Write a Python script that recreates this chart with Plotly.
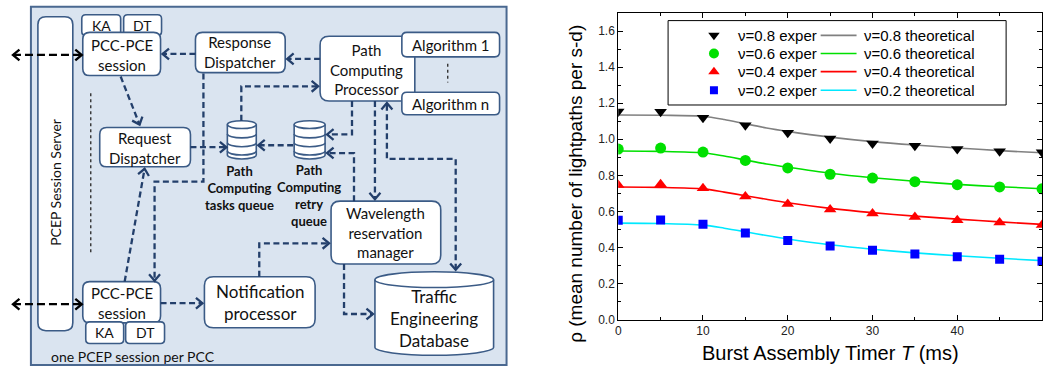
import plotly.graph_objects as go

# ---------------- data (right chart) ----------------
T_ms = [0, 5, 10, 15, 20, 25, 30, 35, 40, 45, 50]
exp_08 = [1.154, 1.152, 1.120, 1.078, 1.036, 1.005, 0.977, 0.964, 0.946, 0.933, 0.928]
exp_06 = [0.946, 0.951, 0.929, 0.883, 0.841, 0.806, 0.785, 0.765, 0.748, 0.736, 0.725]
exp_04 = [0.747, 0.750, 0.728, 0.683, 0.641, 0.611, 0.589, 0.569, 0.551, 0.538, 0.525]
exp_02 = [0.551, 0.553, 0.529, 0.480, 0.439, 0.408, 0.384, 0.364, 0.348, 0.335, 0.324]

T_theory = [0, 5, 10, 12.5, 15, 17.5, 20, 25, 30, 35, 40, 45, 50]
th_08 = [1.135, 1.133, 1.128, 1.110, 1.086, 1.063, 1.044, 1.012, 0.987, 0.968, 0.952, 0.937, 0.925]
th_06 = [0.935, 0.933, 0.925, 0.907, 0.885, 0.863, 0.845, 0.812, 0.787, 0.767, 0.750, 0.737, 0.726]
th_04 = [0.735, 0.733, 0.725, 0.707, 0.687, 0.667, 0.648, 0.617, 0.593, 0.574, 0.557, 0.542, 0.528]
th_02 = [0.535, 0.533, 0.524, 0.507, 0.487, 0.466, 0.447, 0.415, 0.390, 0.370, 0.354, 0.340, 0.327]

exper_names = ["ν=0.8 exper", "ν=0.6 exper", "ν=0.4 exper", "ν=0.2 exper"]
theory_names = ["ν=0.8 theoretical", "ν=0.6 theoretical", "ν=0.4 theoretical", "ν=0.2 theoretical"]
y_ticks = [0.0, 0.2, 0.4, 0.6, 0.8, 1.0, 1.2, 1.4, 1.6]
x_ticks = [0, 10, 20, 30, 40, 50]
x_range = [0, 50]
y_range = [0, 1.7]

exper_series = [exp_08, exp_06, exp_04, exp_02]
theory_series = [th_08, th_06, th_04, th_02]
marker_colors = ["black", "#00e000", "#ff0000", "#0000ff"]
marker_symbols = ["triangle-down", "circle", "triangle-up", "square"]
marker_sizes = [11, 11, 11, 9]
line_colors = ["#808080", "#00e000", "#ff0000", "#00e8ff"]

W, H = 1047, 374
PLOT_L, PLOT_R, PLOT_T, PLOT_B = 617, 1042, 13.3, 325.7   # chart plot area in page pixels
CHART_FONT = "Liberation Sans, Arial, sans-serif"
DIAG_FONT = "Lato, Open Sans, sans-serif"
BOX = "#3b5b86"
ARR = "#233f6b"


def px(x):
    return x / W


def py(y):
    return 1 - y / H


def P(x, y):
    return f"{px(x):.5f},{py(y):.5f}"


fig = go.Figure()

for ys, c, n in zip(theory_series, line_colors, theory_names):
    fig.add_trace(go.Scatter(x=T_theory, y=ys, mode="lines", name=n,
                             line=dict(color=c, width=1.6, shape="spline", smoothing=0.8),
                             showlegend=False))
for ys, c, s, sz, n in zip(exper_series, marker_colors, marker_symbols, marker_sizes, exper_names):
    fig.add_trace(go.Scatter(x=T_ms, y=ys, mode="markers", name=n,
                             marker=dict(color=c, symbol=s, size=sz, line=dict(width=0)),
                             showlegend=False))

shapes = []
annos = []


def add_path(p, color, w, fill=None, dash=None):
    d = dict(type="path", path=p, xref="paper", yref="paper",
             line=dict(color=color, width=w), layer="above")
    if dash:
        d["line"]["dash"] = dash
    if fill:
        d["fillcolor"] = fill
    shapes.append(d)


def rrect(x0, y0, x1, y1, r=7, line=BOX, fill="white", w=1.6):
    p = (f"M{P(x0+r,y0)} L{P(x1-r,y0)} Q{P(x1,y0)} {P(x1,y0+r)} L{P(x1,y1-r)} "
         f"Q{P(x1,y1)} {P(x1-r,y1)} L{P(x0+r,y1)} Q{P(x0,y1)} {P(x0,y1-r)} "
         f"L{P(x0,y0+r)} Q{P(x0,y0)} {P(x0+r,y0)} Z")
    add_path(p, line, w, fill=fill)


def text(x, y, t, size=15, bold=False, anchor="center", angle=0, color="#111111", font=DIAG_FONT):
    if bold:
        t = "<b>" + t.replace("<br>", "</b><br><b>") + "</b>"
    annos.append(dict(x=px(x), y=py(y), xref="paper", yref="paper", text=t, showarrow=False,
                      xanchor=anchor, yanchor="middle", textangle=angle,
                      font=dict(family=font, size=size, color=color)))


K = 0.5523


def upper_half(cx, cy, rx, ry):
    return (f"C{P(cx-rx,cy-K*ry)} {P(cx-K*rx,cy-ry)} {P(cx,cy-ry)} "
            f"C{P(cx+K*rx,cy-ry)} {P(cx+rx,cy-K*ry)} {P(cx+rx,cy)}")


def lower_half(cx, cy, rx, ry):
    return (f"C{P(cx+rx,cy+K*ry)} {P(cx+K*rx,cy+ry)} {P(cx,cy+ry)} "
            f"C{P(cx-K*rx,cy+ry)} {P(cx-rx,cy+K*ry)} {P(cx-rx,cy)}")


def cylinder(x0, x1, ytop, ybot, ry, dividers=(), w=1.6):
    cx, rx = (x0 + x1) / 2, (x1 - x0) / 2
    body = f"M{P(x0,ytop)} {upper_half(cx, ytop, rx, ry)} L{P(x1,ybot)} {lower_half(cx, ybot, rx, ry)} Z"
    add_path(body, BOX, w, fill="white")
    for cy in [ytop] + list(dividers):
        add_path(f"M{P(x1,cy)} {lower_half(cx, cy, rx, ry)}", BOX, w)


def chevron(tip, prev, color, L=6.5, wd=5.5, w=2.3):
    dx, dy = tip[0] - prev[0], tip[1] - prev[1]
    n = (dx * dx + dy * dy) ** 0.5
    ux, uy = dx / n, dy / n
    nx, ny = -uy, ux
    bx, by = tip[0] - L * ux, tip[1] - L * uy
    add_path(f"M{P(bx+wd*nx,by+wd*ny)} L{P(tip[0],tip[1])} L{P(bx-wd*nx,by-wd*ny)}", color, w)


def arrow(pts, end=True, start=False, color=ARR, w=2.3, dash="6px,3.5px"):
    p = "M" + " L".join(P(x, y) for x, y in pts)
    add_path(p, color, w, dash=dash)
    if end:
        chevron(pts[-1], pts[-2], color)
    if start:
        chevron(pts[0], pts[1], color)


def vline_dotted(x, y0, y1):
    shapes.append(dict(type="line", x0=px(x), y0=py(y0), x1=px(x), y1=py(y1),
                       xref="paper", yref="paper",
                       line=dict(color="#333333", width=1.4, dash="dot"), layer="above"))


# ---------------- diagram ----------------
shapes.append(dict(type="rect", x0=px(28), y0=py(7), x1=px(505), y1=py(372),
                   xref="paper", yref="paper",
                   line=dict(color="#4a6890", width=2), fillcolor="#dae4f0", layer="above"))

rrect(35, 17, 70, 337, r=8)
text(52.5, 186, "PCEP Session Server", size=14, angle=-90)

rrect(79, 15, 118, 36, r=4)
rrect(121, 15, 159, 36, r=4)
text(98.5, 25.5, "KA", size=14)
text(140, 25.5, "DT", size=14)
rrect(80, 33, 158, 77, r=7)
text(119, 56, "PCC-PCE<br>session", size=15)

rrect(80, 287, 158, 329, r=7)
text(119, 309, "PCC-PCE<br>session", size=15)
rrect(83, 328, 121, 350, r=4)
rrect(123, 328, 162, 350, r=4)
text(102, 339, "KA", size=14)
text(142.5, 339, "DT", size=14)

rrect(193, 33, 283, 74, r=7)
text(238, 53.5, "Response<br>Dispatcher", size=15)
rrect(97, 130, 188, 170, r=7)
text(142.5, 150.5, "Request<br>Dispatcher", size=15)
rrect(318, 37, 413, 103, r=9)
text(365, 71, "Path<br>Computing<br>Processor", size=15)
rrect(400, 33, 498, 58, r=5)
text(449, 46, "Algorithm 1", size=15)
rrect(400, 94, 498, 117, r=5)
text(449, 106, "Algorithm n", size=15)
rrect(329, 205, 439, 269, r=9)
text(384, 237, "Wavelength<br>reservation<br>manager", size=15)
rrect(202, 282, 313, 334, r=9)
text(257.5, 308.5, "Notification<br>processor", size=17)

cylinder(373, 492, 285, 354, 8)
text(432.5, 325, "Traffic<br>Engineering<br>Database", size=17)

cylinder(225, 254, 127, 158, 4, dividers=(136.5, 145.5, 154))
cylinder(292, 323, 127, 158, 4, dividers=(136.5, 145.5, 154))
text(237, 191.5, "Path<br>Computing<br>tasks queue", size=13, bold=True)
text(307, 199, "Path<br>Computing<br>retry<br>queue", size=13, bold=True)

vline_dotted(88, 95, 257)
vline_dotted(446, 65, 84)

text(46, 363, "one PCEP session per PCC", size=14, anchor="left")

arrow([(10, 56), (79, 56)], end=True, start=True, color="black", dash="8px,4px")
arrow([(10, 310), (79, 310)], end=True, start=True, color="black", dash="8px,4px")

arrow([(193, 55), (160, 55)])
arrow([(118, 78), (137, 127)])
arrow([(188, 150), (224, 150)])
arrow([(201, 75), (201, 185), (152, 185), (152, 286)])
arrow([(122, 287), (142, 172)])
arrow([(158, 309), (200, 309)])
arrow([(257, 282), (257, 248), (327, 248)])
arrow([(239, 123), (239, 88), (316, 88)])
arrow([(350, 103), (350, 137), (325, 137)])
arrow([(291, 148), (256, 148)])
arrow([(352, 205), (352, 156), (325, 156)])
arrow([(373, 103), (373, 203)])
arrow([(454, 275), (454, 162), (385, 162), (385, 105)], end=True, start=True)
arrow([(342, 269), (342, 320), (371, 320)])
arrow([(318, 60), (285, 60)])


# ---------------- manual legend inside the chart ----------------
def to_data_x(xpix):
    return x_range[0] + (xpix - PLOT_L) / (PLOT_R - PLOT_L) * (x_range[1] - x_range[0])


def to_data_y(ypix):
    return y_range[0] + (PLOT_B - ypix) / (PLOT_B - PLOT_T) * (y_range[1] - y_range[0])


leg_rows = [36, 54.5, 73, 92]
shapes.append(dict(type="rect", x0=px(667), y0=py(21), x1=px(1006), y1=py(107),
                   xref="paper", yref="paper",
                   line=dict(color="black", width=1), fillcolor="rgba(0,0,0,0)", layer="above"))
for i, ry in enumerate(leg_rows):
    fig.add_trace(go.Scatter(x=[to_data_x(713)], y=[to_data_y(ry)], mode="markers",
                             marker=dict(color=marker_colors[i], symbol=marker_symbols[i],
                                         size=marker_sizes[i] - 1, line=dict(width=0)),
                             showlegend=False, hoverinfo="skip"))
    fig.add_trace(go.Scatter(x=[to_data_x(820), to_data_x(856)], y=[to_data_y(ry)] * 2,
                             mode="lines", line=dict(color=line_colors[i], width=1.6),
                             showlegend=False, hoverinfo="skip"))
    text(735, ry, exper_names[i], size=15, anchor="left", color="black", font=CHART_FONT)
    text(861, ry, theory_names[i], size=15, anchor="left", color="black", font=CHART_FONT)

text(830, 360, "Burst Assembly Timer <i>T</i> (ms)", size=20, color="black", font=CHART_FONT)
text(574, 187, "ρ (mean number of lightpaths per s-d)", size=19, angle=-90, color="black", font=CHART_FONT)

axis_common = dict(showline=True, linecolor="black", linewidth=1, mirror="allticks",
                   ticks="inside", ticklen=5, tickwidth=1, tickcolor="black",
                   showgrid=False, zeroline=False,
                   tickfont=dict(family=CHART_FONT, size=12, color="#222222"))

fig.update_layout(
    width=W, height=H,
    margin=dict(l=0, r=0, t=0, b=0),
    paper_bgcolor="white", plot_bgcolor="white",
    showlegend=False,
    xaxis=dict(domain=[PLOT_L / W, PLOT_R / W], range=x_range, tickvals=x_ticks,
               minor=dict(ticks="inside", dtick=5, ticklen=3, tickcolor="black"),
               **axis_common),
    yaxis=dict(domain=[1 - PLOT_B / H, 1 - PLOT_T / H], range=y_range, tickvals=y_ticks,
               tickformat=".1f",
               minor=dict(ticks="inside", dtick=0.1, ticklen=3, tickcolor="black"),
               **axis_common),
    shapes=shapes,
    annotations=annos,
)

fig.write_html("out.html", config={"displayModeBar": False},
               post_script="document.body.style.margin='0';document.body.style.overflow='hidden';")
